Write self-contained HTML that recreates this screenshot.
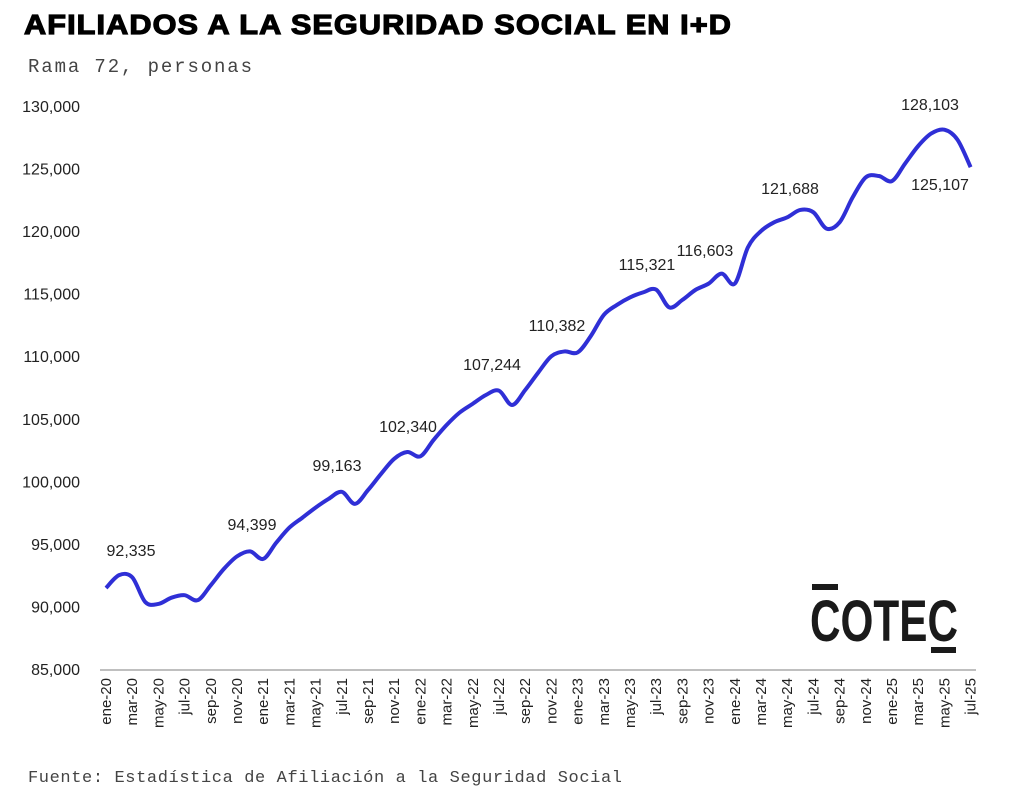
<!DOCTYPE html>
<html><head><meta charset="utf-8"><style>
body{margin:0;background:#fff;width:1024px;height:807px;overflow:hidden;font-family:"Liberation Sans",sans-serif}
</style></head><body>
<svg id="s" width="1024" height="807" xmlns="http://www.w3.org/2000/svg">
<text x="24" y="34" font-family="Liberation Sans" font-weight="900" font-size="28" fill="#000" stroke="#000" stroke-width="1.2" letter-spacing="1" textLength="708" lengthAdjust="spacingAndGlyphs">AFILIADOS A LA SEGURIDAD SOCIAL EN I+D</text>
<text x="28" y="72" font-family="Liberation Mono" font-size="19" fill="#444" textLength="224" lengthAdjust="spacing">Rama 72, personas</text>
<text x="28" y="782" font-family="Liberation Mono" font-size="17" fill="#444" textLength="594" lengthAdjust="spacing">Fuente: Estadística de Afiliación a la Seguridad Social</text>
<line x1="100" y1="670" x2="976" y2="670" stroke="#aaa" stroke-width="1.5"/>
<g id="yl" font-size="16" fill="#222" text-anchor="end"></g>
<g id="xl" font-size="15" fill="#222"></g>
<path id="p" fill="none" stroke="#2f2fd6" stroke-width="4" stroke-linejoin="round"/>
<g id="lb" font-size="16" fill="#222" text-anchor="middle"></g>
<rect x="812" y="584" width="26" height="6" fill="#1a1a1a"/>
<rect x="931" y="647" width="25" height="6" fill="#1a1a1a"/>
<text x="810" y="641" font-family="Liberation Sans" font-weight="bold" font-size="58" fill="#1a1a1a" textLength="148" lengthAdjust="spacingAndGlyphs">COTEC</text>
</svg>
<script>
var d=[91474,92500,92335,90350,90200,90700,90900,90500,91700,93000,94000,94399,93800,95100,96300,97100,97900,98600,99163,98200,99300,100600,101800,102340,102000,103300,104500,105500,106200,106900,107244,106100,107300,108700,110000,110382,110300,111600,113300,114100,114700,115100,115321,113900,114500,115300,115800,116603,115800,118700,120000,120700,121100,121688,121500,120200,120700,122700,124300,124400,124000,125400,126800,127800,128103,127300,125107];
function X(i){return 106+i*13.1}function Y(v){return 669-(v-85000)*0.012512}
var ns="http://www.w3.org/2000/svg";
function t(g,x,y,s,extra){var e=document.createElementNS(ns,"text");e.setAttribute("x",x);e.setAttribute("y",y);e.textContent=s;if(extra)e.setAttribute("transform",extra);document.getElementById(g).appendChild(e);}
for(var v=85000;v<=130000;v+=5000)t("yl",80,Y(v)+6,v.toLocaleString("en-US"));
var m=["ene","mar","may","jul","sep","nov"];
for(var i=0;i<67;i+=2){var lab=m[(i%12)/2]+"-"+(20+Math.floor(i/12));var x=X(i)+5;t("xl",x,678,lab,"rotate(-90 "+x+" 678)");document.getElementById("xl").lastChild.setAttribute("text-anchor","end");}
var P=d.map(function(v,i){return[X(i),Y(v)]});var s="M"+P[0];
for(var i=0;i<P.length-1;i++){var p0=P[i-1]||P[i],p1=P[i],p2=P[i+1],p3=P[i+2]||p2;
s+="C"+(p1[0]+(p2[0]-p0[0])/6)+","+(p1[1]+(p2[1]-p0[1])/6)+" "+(p2[0]-(p3[0]-p1[0])/6)+","+(p2[1]-(p3[1]-p1[1])/6)+" "+p2;}
document.getElementById("p").setAttribute("d",s);
[[131,556,"92,335"],[252,530,"94,399"],[337,471,"99,163"],[408,432,"102,340"],[492,370,"107,244"],[557,331,"110,382"],[647,270,"115,321"],[705,256,"116,603"],[790,194,"121,688"],[930,110,"128,103"],[940,190,"125,107"]].forEach(function(a){t("lb",a[0],a[1],a[2])});
</script>
</body></html>
